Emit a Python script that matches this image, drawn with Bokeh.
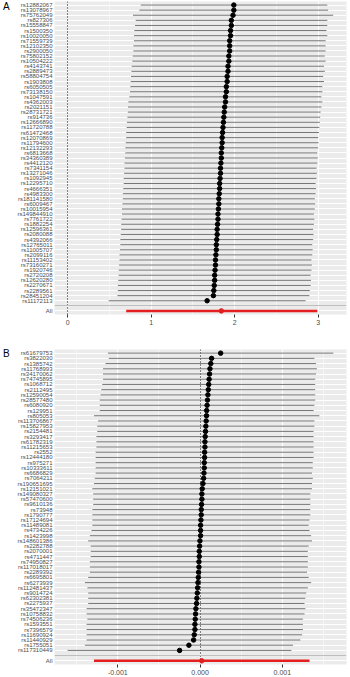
from bokeh.plotting import figure
from bokeh.layouts import column, row
from bokeh.models import FactorRange, Range1d, FixedTicker, ColumnDataSource, Div
from bokeh.embed import file_html
from bokeh.resources import INLINE

# ---------------- Panel A data ----------------
A_SNP = ["rs12882067", "rs13078967", "rs75762049", "rs827306", "rs15558847", "rs1500350",
         "rs10020050", "rs71559739", "rs12102350", "rs2900050", "rs75802152", "rs10504222",
         "rs4143741", "rs2889473", "rs58804754", "rs1903808", "rs6050505", "rs73138150",
         "rs1047591", "rs4362003", "rs2021151", "rs28731721", "rs914736", "rs12666890",
         "rs11720788", "rs61472468", "rs12070869", "rs11794600", "rs12132293", "rs6813668",
         "rs34360389", "rs4412120", "rs7341154", "rs13271046", "rs1092945", "rs12295710",
         "rs4666351", "rs4983300", "rs181141580", "rs6009467", "rs10015954", "rs149844910",
         "rs7761722", "rs1882254", "rs12596361", "rs2080088", "rs4392066", "rs12765011",
         "rs11005707", "rs2099116", "rs11153402", "rs73160271", "rs1920746", "rs2720208",
         "rs12620280", "rs2270671", "rs2289561", "rs28451204", "rs11172113"]
A_B = [1.99, 1.99, 1.98, 1.96, 1.96, 1.95, 1.95, 1.94, 1.94, 1.94, 1.93, 1.93, 1.92, 1.92,
       1.91, 1.91, 1.90, 1.90, 1.89, 1.89, 1.88, 1.875, 1.87, 1.865, 1.86, 1.855, 1.85, 1.85,
       1.845, 1.84, 1.84, 1.835, 1.83, 1.83, 1.825, 1.82, 1.82, 1.815, 1.81, 1.81, 1.805, 1.80,
       1.80, 1.795, 1.79, 1.79, 1.785, 1.78, 1.78, 1.775, 1.77, 1.77, 1.765, 1.76, 1.76, 1.755,
       1.75, 1.745, 1.67]
A_LO = [0.874, 0.858, 0.782, 0.814, 0.806, 0.798, 0.794, 0.794, 0.786, 0.786, 0.778, 0.774,
        0.766, 0.762, 0.758, 0.754, 0.750, 0.746, 0.738, 0.726, 0.722, 0.72, 0.715, 0.71,
        0.705, 0.70, 0.70, 0.695, 0.69, 0.69, 0.685, 0.68, 0.68, 0.675, 0.67, 0.67, 0.665,
        0.66, 0.66, 0.655, 0.65, 0.65, 0.645, 0.64, 0.64, 0.635, 0.63, 0.63, 0.625, 0.62,
        0.62, 0.615, 0.61, 0.61, 0.605, 0.60, 0.60, 0.595, 0.49]
A_HI = [3.11, 3.12, 3.18, 3.11, 3.11, 3.10, 3.11, 3.09, 3.09, 3.09, 3.08, 3.09, 3.07, 3.08,
        3.06, 3.07, 3.05, 3.05, 3.04, 3.05, 3.04, 3.03, 3.025, 3.02, 3.015, 3.01, 3.00, 3.005,
        3.00, 2.99, 2.995, 2.99, 2.98, 2.985, 2.98, 2.97, 2.975, 2.97, 2.96, 2.965, 2.96, 2.95,
        2.955, 2.95, 2.94, 2.945, 2.94, 2.93, 2.935, 2.93, 2.92, 2.925, 2.92, 2.91, 2.915,
        2.91, 2.90, 2.895, 2.85]
A_ALL = [1.84]
A_ALL_LO = [0.70]
A_ALL_HI = [2.99]
A_XRANGE = [-0.159, 3.34]
A_TICKS = [0, 1, 2, 3]
A_TICK_LABELS = ["0", "1", "2", "3"]
A_MINOR = [0.5, 1.5, 2.5]

# ---------------- Panel B data ----------------
B_SNP = ["rs61679753", "rs3822030", "rs1385742", "rs11768993", "rs34170062", "rs74745895",
         "rs1068712", "rs2112495", "rs12590054", "rs28577480", "rs6080920", "rs129951",
         "rs805053", "rs113706867", "rs15827953", "rs2154481", "rs3293417", "rs61782319",
         "rs11215653", "rs2552", "rs12444180", "rs975271", "rs10333611", "rs6686829",
         "rs7064211", "rs190651695", "rs12151021", "rs149080327", "rs57470600", "rs9610136",
         "rs73948", "rs1790777", "rs17124694", "rs11489081", "rs4734226", "rs1423998",
         "rs148601386", "rs2282788", "rs2070001", "rs4711447", "rs74950827", "rs117018017",
         "rs2289392", "rs6695801", "rs6273939", "rs112481437", "rs9014724", "rs62302381",
         "rs2275937", "rs35472347", "rs10758832", "rs74506236", "rs1593551", "rs7396579",
         "rs11690924", "rs11440929", "rs1755051", "rs117310449"]
B_B = [0.00025, 0.00014, 0.00013, 0.00012, 0.000115, 0.00011, 0.000105, 0.0001, 0.000095,
       0.00009, 0.000085, 0.00008, 0.000078, 0.000074, 0.00007, 0.000066, 0.000062, 0.000059,
       0.000059, 0.000055, 0.000055, 0.000051, 0.000051, 0.000047, 0.000043, 0.000035,
       0.000026, 0.000022, 0.000022, 0.000018, 0.000014, 0.000014, 0.00001, 0.000006,
       0.000006, 0.000006, -0.000002, -0.000006, -0.00001, -0.00001, -0.000014, -0.000014,
       -0.000018, -0.000022, -0.000026, -0.00003, -0.000034, -0.000039, -0.000043,
       -0.000051, -0.000055, -0.000059, -0.000063, -0.000063, -0.000071, -0.000079,
       -0.000136, -0.000249]
B_LO = [-0.00112, -0.00111, -0.00115, -0.00118, -0.00118, -0.00118, -0.00119, -0.00120,
        -0.00121, -0.00122, -0.00122, -0.00122, -0.00129, -0.00124, -0.00125, -0.00125,
        -0.00126, -0.00126, -0.00126, -0.00127, -0.00127, -0.00127, -0.00127, -0.00127,
        -0.00128, -0.00129, -0.00131, -0.00130, -0.00130, -0.00130, -0.00131, -0.00131,
        -0.00131, -0.00131, -0.00132, -0.00134, -0.00136, -0.00133, -0.00133, -0.00133,
        -0.00134, -0.00134, -0.00134, -0.00136, -0.00140, -0.00137, -0.00136, -0.00136,
        -0.00136, -0.00138, -0.00138, -0.00137, -0.00138, -0.00138, -0.00138, -0.00138,
        -0.00140, -0.00161]
B_HI = [0.00162, 0.00139, 0.00141, 0.00142, 0.00141, 0.00140, 0.00140, 0.00140, 0.00140,
        0.00140, 0.00139, 0.00138, 0.00145, 0.00139, 0.00139, 0.00138, 0.00138, 0.00138,
        0.00138, 0.00138, 0.00138, 0.00137, 0.00137, 0.00136, 0.00137, 0.00136, 0.00136,
        0.00134, 0.00134, 0.00134, 0.00134, 0.00134, 0.00133, 0.00132, 0.00133, 0.00135,
        0.00136, 0.00132, 0.00131, 0.00131, 0.00131, 0.00131, 0.00130, 0.00132, 0.00135,
        0.00131, 0.00129, 0.00128, 0.00127, 0.00128, 0.00127, 0.00125, 0.00125, 0.00125,
        0.00124, 0.00122, 0.00113, 0.00111]
B_ALL = [0.00002]
B_ALL_LO = [-0.00129]
B_ALL_HI = [0.00133]
B_XRANGE = [-0.00177, 0.00178]
B_TICKS = [-0.001, 0.0, 0.001]
B_TICK_LABELS = ["-0.001", "0.000", "0.001"]
B_MINOR = [-0.0015, -0.0005, 0.0005, 0.0015]

ALL_LABEL = "All"
BLANK = " "
FONT = "Liberation Sans"
LETTER_W = 10
TOTAL_W = 350


def make_panel(snps, b, lo, hi, all_b, all_lo, all_hi, xr, ticks, tick_labels,
               minor, height, top, bottom):
    factors = [ALL_LABEL, BLANK] + snps[::-1]
    p = figure(width=TOTAL_W - LETTER_W, height=height,
               x_range=Range1d(xr[0], xr[1]),
               y_range=FactorRange(factors=factors, range_padding=0.2,
                                   range_padding_units="absolute"),
               output_backend="svg", toolbar_location=None,
               min_border_left=44, min_border_right=4,
               min_border_top=top, min_border_bottom=bottom, margin=0)
    p.background_fill_color = "#EBEBEB"
    p.border_fill_color = "white"
    p.outline_line_color = None

    # grids
    p.xgrid.grid_line_color = "white"
    p.xgrid.grid_line_width = 1
    p.xgrid.minor_grid_line_color = "white"
    p.xgrid.minor_grid_line_width = 0.5
    p.ygrid.grid_line_color = "white"
    p.ygrid.grid_line_width = 1

    # x axis
    p.xaxis.ticker = FixedTicker(ticks=ticks, minor_ticks=minor)
    p.xaxis.major_label_overrides = dict(zip(ticks, tick_labels))
    p.xaxis.axis_line_color = None
    p.xaxis.major_tick_in = 0
    p.xaxis.major_tick_out = 3
    p.xaxis.major_tick_line_color = "#333333"
    p.xaxis.minor_tick_in = 0
    p.xaxis.minor_tick_out = 0
    p.xaxis.major_label_standoff = 2
    p.xaxis.major_label_text_font = FONT
    p.xaxis.major_label_text_font_size = "7px"
    p.xaxis.major_label_text_color = "#4D4D4D"

    # y axis
    p.yaxis.axis_line_color = None
    p.yaxis.major_tick_in = 0
    p.yaxis.major_tick_out = 0
    p.yaxis.major_label_standoff = 2
    p.yaxis.major_label_text_font = FONT
    p.yaxis.major_label_text_font_size = "6px"
    p.yaxis.major_label_text_color = "#4D4D4D"

    # reference line at zero
    p.vspan(x=[0], line_color="black", line_width=1, line_dash="1 2")

    src = ColumnDataSource(dict(snp=snps, b=b, lo=lo, hi=hi))
    p.segment(x0="lo", y0="snp", x1="hi", y1="snp", source=src,
              line_color="#666666", line_width=0.9)
    p.scatter(x="b", y="snp", source=src, size=4.5, color="black")

    p.hspan(y=[BLANK], line_color="#BEBEBE", line_width=1)

    src_all = ColumnDataSource(dict(snp=[ALL_LABEL], b=all_b, lo=all_lo, hi=all_hi))
    p.segment(x0="lo", y0="snp", x1="hi", y1="snp", source=src_all,
              line_color="#E41F1F", line_width=2.5)
    p.scatter(x="b", y="snp", source=src_all, size=4.5, color="#E41F1F")
    return p


def letter_div(letter, height, pad_top):
    return Div(text=letter, width=LETTER_W, height=height, margin=0,
               styles={"font-family": FONT, "font-size": "10px", "color": "black",
                       "padding-top": f"{pad_top}px", "padding-left": "3px",
                       "line-height": "10px"})


A_H, B_H = 335, 342
pA = make_panel(A_SNP, A_B, A_LO, A_HI, A_ALL, A_ALL_LO, A_ALL_HI, A_XRANGE,
                A_TICKS, A_TICK_LABELS, A_MINOR, A_H, 1, 21)
pB = make_panel(B_SNP, B_B, B_LO, B_HI, B_ALL, B_ALL_LO, B_ALL_HI, B_XRANGE,
                B_TICKS, B_TICK_LABELS, B_MINOR, B_H, 14, 13)

layout = column(row(letter_div("A", A_H, 2), pA, spacing=0, margin=0),
                row(letter_div("B", B_H, 14), pB, spacing=0, margin=0),
                spacing=0, margin=0)
open("out.html", "w").write(file_html(layout, INLINE))
